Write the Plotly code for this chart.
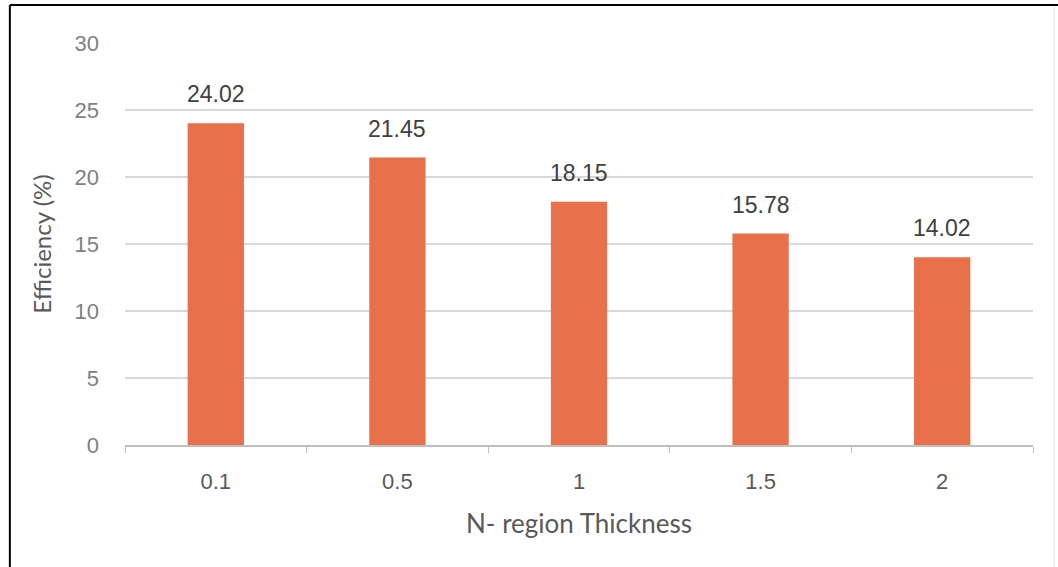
import plotly.graph_objects as go

thickness = ["0.1", "0.5", "1", "1.5", "2"]
efficiency = [24.02, 21.45, 18.15, 15.78, 14.02]
y_ticks = [0, 5, 10, 15, 20, 25, 30]

text_gray = "#595959"
num_font = "Liberation Sans, Arial, sans-serif"
title_font = "Lato, sans-serif"

fig = go.Figure(
    go.Bar(
        x=thickness,
        y=efficiency,
        marker=dict(color="#E8704A", line=dict(width=0)),
        width=0.31,
        hoverinfo="x+y",
    )
)

# value labels above each bar (category axes place annotations by index)
for idx, val in enumerate(efficiency):
    fig.add_annotation(
        x=idx, y=val, text=f"{val:.2f}", showarrow=False,
        yanchor="bottom", yshift=14,
        font=dict(size=23, color="#404040", family=num_font),
    )

fig.update_layout(
    width=1058,
    height=567,
    margin=dict(l=125, r=25, t=43, b=122),
    paper_bgcolor="white",
    plot_bgcolor="white",
    showlegend=False,
    font=dict(family=num_font, color=text_gray),
    xaxis=dict(
        type="category",
        showline=True,
        linecolor="#BFBFBF",
        linewidth=1.5,
        ticks="outside",
        tickson="boundaries",
        ticklen=6,
        tickcolor="#BFBFBF",
        showgrid=False,
        tickfont=dict(size=22, color=text_gray, family=num_font),
        ticklabelstandoff=16,
        title=dict(text="N- region Thickness", font=dict(size=26, color=text_gray, family=title_font), standoff=22),
    ),
    yaxis=dict(
        range=[0, 30],
        tickvals=y_ticks,
        showgrid=True,
        gridcolor="#D9D9D9",
        gridwidth=1.5,
        zeroline=False,
        showline=False,
        tickfont=dict(size=22, color="#7F7F7F", family=num_font),
        ticklabelstandoff=25,
        title=dict(text="Efficiency (%)", font=dict(size=24, color=text_gray, family=title_font), standoff=16),
    ),
    shapes=[
        dict(type="line", xref="paper", yref="paper", x0=-0.1268, x1=-0.1268, y0=-0.4, y1=1.0945,
             line=dict(color="black", width=2)),
        dict(type="line", xref="paper", yref="paper", x0=-0.1268, x1=1.03, y0=1.0945, y1=1.0945,
             line=dict(color="black", width=2)),
        dict(type="line", xref="paper", yref="paper", x0=1.0231, x1=1.0231, y0=-0.4, y1=1.09,
             line=dict(color="#E0E0E0", width=1)),
    ],
    bargap=0.69,
)

fig.write_html("out.html")
